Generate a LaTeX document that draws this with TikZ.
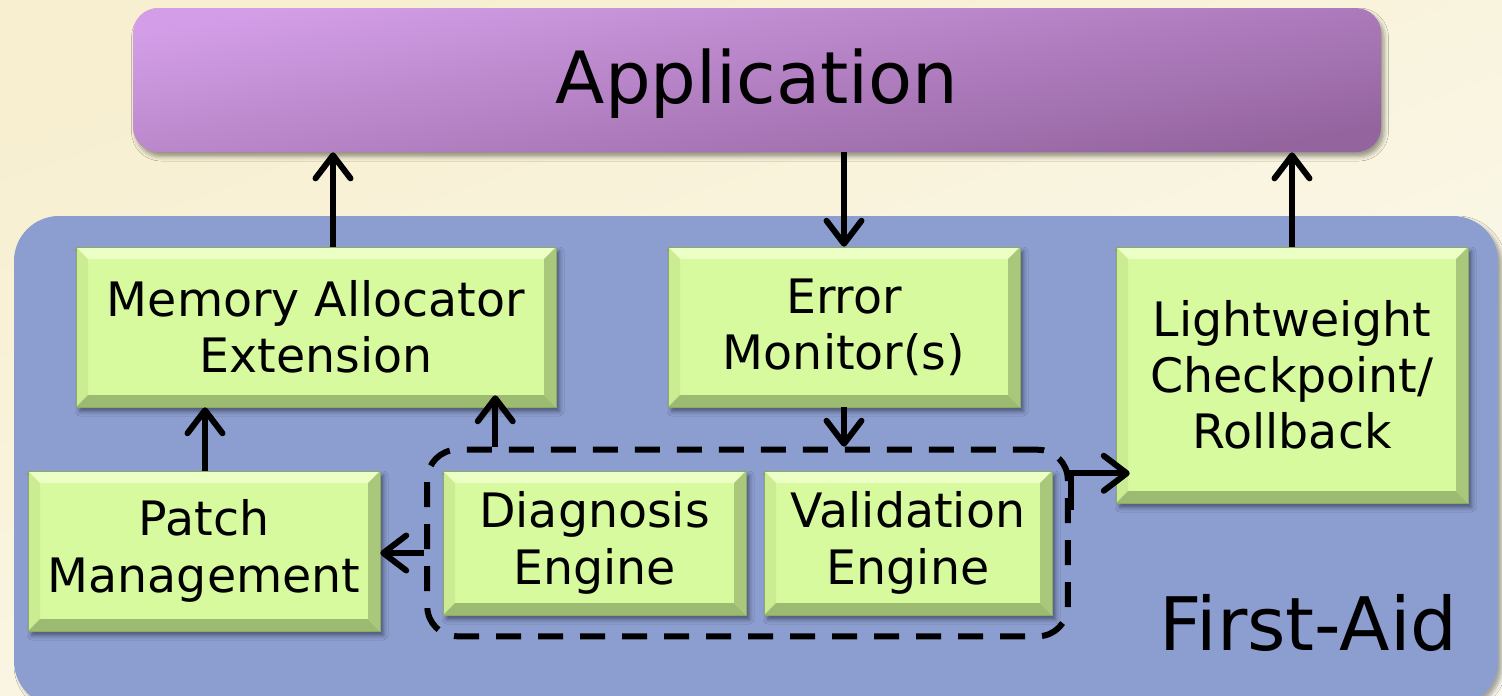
\documentclass[tikz,border=0pt]{standalone}
\usepackage{fontspec}
\setmainfont{DejaVu Sans}
\usetikzlibrary{arrows.meta,shadows.blur,fit,calc}
\definecolor{bgA}{HTML}{F7EFD0}
\definecolor{bgB}{HTML}{FCFAF0}
\definecolor{purA}{HTML}{D39EE7}
\definecolor{purB}{HTML}{94649F}
\definecolor{blueFA}{HTML}{8C9ED0}
\definecolor{gFill}{HTML}{D8FA9F}
\definecolor{gTop}{HTML}{ECFFC4}
\definecolor{gLeft}{HTML}{CBEC93}
\definecolor{gBot}{HTML}{9DBB70}
\definecolor{gRight}{HTML}{A9C87B}
\definecolor{gLine}{HTML}{8CA86A}
\newcommand{\bev}{12}
\tikzset{
  greenbox/.style={
    draw=gLine, line width=0.3pt, fill=gFill, align=center, inner sep=0pt,
    font=\fontsize{27}{32}\selectfont,
    blur shadow={shadow xshift=0.7mm, shadow yshift=-0.9mm, shadow blur radius=0.9mm, shadow opacity=45},
    path picture={
      \fill[gTop] (path picture bounding box.north west) -- (path picture bounding box.north east)
        -- ($(path picture bounding box.north east)+(-\bev,\bev)$) -- ($(path picture bounding box.north west)+(\bev,\bev)$) -- cycle;
      \fill[gLeft] (path picture bounding box.north west) -- ($(path picture bounding box.north west)+(\bev,\bev)$)
        -- ($(path picture bounding box.south west)+(\bev,-\bev)$) -- (path picture bounding box.south west) -- cycle;
      \fill[gBot] (path picture bounding box.south west) -- ($(path picture bounding box.south west)+(\bev,-\bev)$)
        -- ($(path picture bounding box.south east)+(-\bev,-\bev)$) -- (path picture bounding box.south east) -- cycle;
      \fill[gRight] (path picture bounding box.south east) -- ($(path picture bounding box.south east)+(-\bev,-\bev)$)
        -- ($(path picture bounding box.north east)+(-\bev,\bev)$) -- (path picture bounding box.north east) -- cycle;
    }},
  arr/.style={line width=1.2mm, -{Straight Barb[length=4.6mm, width=7mm, line cap=round, line join=round]}},
  groupbox/.style={draw=black, line width=1.2mm, dash pattern=on 5mm off 3.4mm, rounded corners=6mm, inner sep=0pt}
}
\begin{document}
\begin{tikzpicture}[x=0.2mm, y=-0.2mm]
  % background
  \shade[left color=bgA, right color=bgB, shading angle=20] (0,0) rectangle (1502,695);
  \useasboundingbox (0,0) rectangle (1502,695);
  % First-Aid container
  \node[fill=blueFA, rounded corners=9mm, minimum width=1484*0.2mm, minimum height=490*0.2mm, inner sep=0pt,
        blur shadow={shadow xshift=0.8mm, shadow yshift=-0.8mm, shadow blur radius=0.8mm, shadow opacity=35}]
        (fa) at (756,461) {};
  % Application
  \node[top color=purA, bottom color=purB, shading angle=10, rounded corners=5mm,
        minimum width=1248*0.2mm, minimum height=144*0.2mm, inner sep=0pt,
        font=\fontsize{41}{44}\selectfont, text height=37pt, text depth=9.8pt,
        blur shadow={shadow xshift=0.6mm, shadow yshift=-0.9mm, shadow blur radius=0.9mm, shadow opacity=40}]
        (app) at (757,80) {Application};
  % Green boxes
  \node[greenbox, minimum width=480*0.2mm, minimum height=160*0.2mm] (mem) at (316,327) {Memory Allocator\\Extension};
  \node[greenbox, minimum width=352*0.2mm, minimum height=160*0.2mm] (err) at (844,327) {Error\\Monitor(s)};
  \node[greenbox, minimum width=352*0.2mm, minimum height=256*0.2mm] (lw) at (1292,375) {Lightweight\\Checkpoint/\\Rollback};
  \node[greenbox, minimum width=352*0.2mm, minimum height=160*0.2mm] (patch) at (204,551) {Patch\\Management};
  \node[greenbox, minimum width=303*0.2mm, minimum height=144*0.2mm] (diag) at (594.5,543) {Diagnosis\\Engine};
  \node[greenbox, minimum width=288*0.2mm, minimum height=144*0.2mm] (val) at (908,543) {Validation\\Engine};
  % dashed group
  \node[groupbox, fit=(diag)(val), inner xsep=3.1mm, inner ysep=4.2mm] (grp) {};
  % label
  \node[anchor=base east, font=\fontsize{42}{44}\selectfont, inner sep=0pt] (falbl) at (1458,650) {First-Aid};
  % connectors
  \draw[arr] (mem.north) ++(17,0) coordinate (memtop) -- (memtop |- app.south);
  \draw[arr] (err.north |- app.south) coordinate (errin) -- (err.north);
  \draw[arr] (lw.north) -- (lw.north |- app.south);
  \draw[arr] (patch.north) ++(1,0) coordinate (pt) -- (pt |- mem.south);
  \coordinate (gtop) at ($(grp.north west)+(71,0)$);
  \draw[arr] (gtop) -- ($(gtop |- mem.south)+(0,-12)$);
  \draw[arr] (err.south) -- (err.south |- grp.north);
  \coordinate (gl) at ($(grp.west)+(0,10)$);
  \draw[arr] (gl) -- (gl -| patch.east);
  \coordinate (gr) at ($(grp.east)+(0,-33)$);
  \coordinate (lwin) at ($(lw.south west)+(14,-30)$);
  \draw[arr] (gr) |- (lwin);
\end{tikzpicture}
\end{document}
